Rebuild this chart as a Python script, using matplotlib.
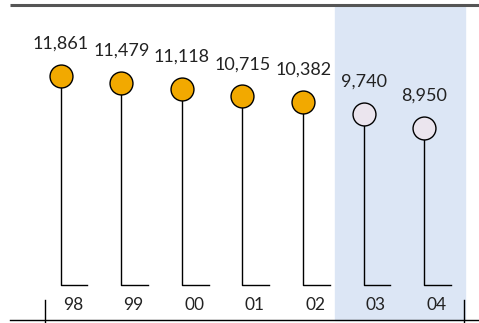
import matplotlib
matplotlib.use('Agg')
import matplotlib.pyplot as plt

# data
years = ['98', '99', '00', '01', '02', '03', '04']
values = [11861, 11479, 11118, 10715, 10382, 9740, 8950]
projected = [False, False, False, False, False, True, True]

base = 160  # stems end a little above zero on the value scale

plt.rcParams['font.family'] = ['Lato', 'DejaVu Sans']

fig = plt.figure(figsize=(4.79, 3.23), dpi=100)
ax = fig.add_axes([0, 0, 1, 1])
ax.set_xlim(-1.0017, 6.903)
ax.set_ylim(-1983, 16099)
ax.axis('off')

# shaded projection area
ax.axvspan(4.526, 6.672, ymin=0.009, ymax=0.978, color='#dce6f5', zorder=0)

# top rule and bottom axis
ax.plot([0.02, 1], [0.983, 0.983], transform=ax.transAxes, color='#555555', lw=2.2, solid_capstyle='butt')
ax.plot([0.02, 1], [0.009, 0.009], transform=ax.transAxes, color='black', lw=1)
for xt in [0.094, 0.969]:
    ax.plot([xt, xt], [0, 0.071], transform=ax.transAxes, color='black', lw=1)

for i, (yr, v, p) in enumerate(zip(years, values, projected)):
    # stem with a small foot to the right
    ax.plot([i, i, i + 0.44], [v, base, base], color='black', lw=1, zorder=2)
    fc = '#ebe5ee' if p else '#f2a900'
    ax.plot(i, v, 'o', ms=16.5, mfc=fc, mec='black', mew=1, zorder=3)
    ax.annotate(f'{v:,}', (i, v), xytext=(0, 32), textcoords='offset pixels',
                ha='center', va='center', fontsize=13, color='#222222')
    ax.annotate(yr, (i + 0.2, base), xytext=(0, -20), textcoords='offset pixels',
                ha='center', va='center', fontsize=12.5, color='#222222')

fig.savefig('out.png', dpi=100, facecolor='white')
